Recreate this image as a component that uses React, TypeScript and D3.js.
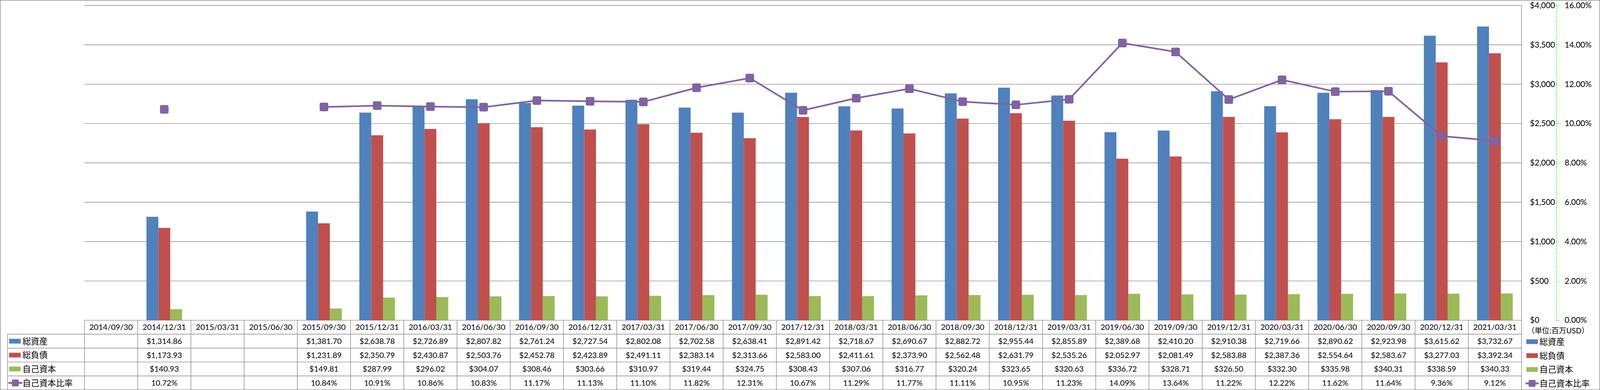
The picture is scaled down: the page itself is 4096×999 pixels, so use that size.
import React, { useEffect, useRef } from 'react';
import * as d3 from 'd3';

// quarter-end dates (one table column each)
const dates = [
  '2014/09/30', '2014/12/31', '2015/03/31', '2015/06/30', '2015/09/30', '2015/12/31',
  '2016/03/31', '2016/06/30', '2016/09/30', '2016/12/31', '2017/03/31', '2017/06/30',
  '2017/09/30', '2017/12/31', '2018/03/31', '2018/06/30', '2018/09/30', '2018/12/31',
  '2019/03/31', '2019/06/30', '2019/09/30', '2019/12/31', '2020/03/31', '2020/06/30',
  '2020/09/30', '2020/12/31', '2021/03/31',
];

// 総資産 (百万USD)
const totalAssets: (number | null)[] = [
  null, 1314.86, null, null, 1381.70, 2638.78, 2726.89, 2807.82, 2761.24, 2727.54, 2802.08,
  2702.58, 2638.41, 2891.42, 2718.67, 2690.67, 2882.72, 2955.44, 2855.89, 2389.68, 2410.20,
  2910.38, 2719.66, 2890.62, 2923.98, 3615.62, 3732.67,
];

// 総負債
const totalLiabilities: (number | null)[] = [
  null, 1173.93, null, null, 1231.89, 2350.79, 2430.87, 2503.76, 2452.78, 2423.89, 2491.11,
  2383.14, 2313.66, 2583.00, 2411.61, 2373.90, 2562.48, 2631.79, 2535.26, 2052.97, 2081.49,
  2583.88, 2387.36, 2554.64, 2583.67, 3277.03, 3392.34,
];

// 自己資本
const equity: (number | null)[] = [
  null, 140.93, null, null, 149.81, 287.99, 296.02, 304.07, 308.46, 303.66, 310.97,
  319.44, 324.75, 308.43, 307.06, 316.77, 320.24, 323.65, 320.63, 336.72, 328.71,
  326.50, 332.30, 335.98, 340.31, 338.59, 340.33,
];

// 自己資本比率 (%)
const equityRatio: (number | null)[] = [
  null, 10.72, null, null, 10.84, 10.91, 10.86, 10.83, 11.17, 11.13, 11.10,
  11.82, 12.31, 10.67, 11.29, 11.77, 11.11, 10.95, 11.23, 14.09, 13.64,
  11.22, 12.22, 11.62, 11.64, 9.36, 9.12,
];

const seriesNames = ['総資産', '総負債', '自己資本', '自己資本比率'];
const unitLabel = '（単位:百万USD）';

const barColors = ['#4F81BD', '#C0504D', '#9BBB59'];
const lineColor = '#8064A2';
const gridColor = '#878787';
const FONT = "Lato, 'Noto Sans CJK JP', sans-serif";

// reference canvas (everything is drawn in these units, then scaled)
const W = 4390;
const H = 1071;
const OUT_W = 4096;
const OUT_H = 999;

const App: React.FC = () => {
  const svgRef = useRef<SVGSVGElement>(null);

  useEffect(() => {
    document.body.style.margin = '0';
    if (!svgRef.current) return;

    const svg = d3.select(svgRef.current);
    svg.selectAll('*').remove();

    const root = svg.append('g').attr('transform', `scale(${OUT_W / W})`);

    const plot = { left: 231.7, right: 4174.7, top: 15, bottom: 879.3 };
    const tableLeft = 20.7;
    const rowH = 38.2;
    const tableBottom = plot.bottom + rowH * 5;

    // outer chart border
    root.append('rect')
      .attr('x', 0.75).attr('y', 0.75)
      .attr('width', W - 1.5).attr('height', H - 1.5)
      .attr('fill', '#fff')
      .attr('stroke', gridColor)
      .attr('stroke-width', 1.5);

    const x = d3.scaleBand().domain(dates).range([plot.left, plot.right]);
    const xs = d3.scaleBand<number>()
      .domain([0, 1, 2])
      .range([0, x.bandwidth()])
      .paddingOuter(0.74);
    const y = d3.scaleLinear().domain([0, 4000]).range([plot.bottom, plot.top]);
    const y2 = d3.scaleLinear().domain([0, 16]).range([plot.bottom, plot.top]);

    // horizontal gridlines
    root.append('g')
      .selectAll('line')
      .data(y.ticks(8).filter(v => v > 0))
      .join('line')
      .attr('x1', plot.left).attr('x2', plot.right)
      .attr('y1', d => y(d)).attr('y2', d => y(d))
      .attr('stroke', gridColor)
      .attr('stroke-width', 1.5);

    // value axis line at the plot's right edge
    root.append('line')
      .attr('x1', plot.right).attr('x2', plot.right)
      .attr('y1', plot.top).attr('y2', plot.bottom)
      .attr('stroke', gridColor)
      .attr('stroke-width', 1.5);

    // bars
    [totalAssets, totalLiabilities, equity].forEach((vals, si) => {
      root.append('g')
        .attr('fill', barColors[si])
        .selectAll('rect')
        .data(dates.map((d, i) => ({ d, v: vals[i] })).filter(p => p.v != null))
        .join('rect')
        .attr('x', p => (x(p.d) || 0) + (xs(si) || 0))
        .attr('y', p => y(p.v as number))
        .attr('width', xs.bandwidth())
        .attr('height', p => plot.bottom - y(p.v as number));
    });

    // equity ratio line
    const pts = dates.map((d, i) => ({ d, v: equityRatio[i] }));
    const cx = (d: string) => (x(d) || 0) + x.bandwidth() / 2;
    const line = d3.line<{ d: string; v: number | null }>()
      .defined(p => p.v != null)
      .x(p => cx(p.d))
      .y(p => y2(p.v as number));

    root.append('path')
      .datum(pts)
      .attr('d', line)
      .attr('fill', 'none')
      .attr('stroke', lineColor)
      .attr('stroke-width', 4.5)
      .attr('stroke-linejoin', 'round');

    const ms = 22;
    root.append('g')
      .selectAll('rect')
      .data(pts.filter(p => p.v != null))
      .join('rect')
      .attr('x', p => cx(p.d) - ms / 2)
      .attr('y', p => y2(p.v as number) - ms / 2)
      .attr('width', ms).attr('height', ms)
      .attr('rx', 3.5)
      .attr('fill', lineColor)
      .attr('stroke', '#7A5C9E')
      .attr('stroke-width', 1.5);

    // $ axis labels (no ticks, left aligned)
    const ax1 = root.append('g')
      .attr('transform', 'translate(4198,0)')
      .call(d3.axisRight(y).ticks(8).tickSize(0).tickPadding(0).tickFormat(v => d3.format('$,.0f')(v as number)));
    ax1.select('.domain').remove();
    ax1.attr('font-family', FONT).attr('font-size', 22);
    ax1.selectAll('text').attr('fill', '#000');

    // % axis with dashed green line
    const ax2 = root.append('g')
      .attr('transform', 'translate(4270,0)')
      .call(d3.axisRight(y2).ticks(8).tickSize(8).tickSizeOuter(8).tickPadding(15)
        .tickFormat(v => d3.format('.2f')(v as number) + '%'));
    ax2.attr('font-family', FONT).attr('font-size', 22);
    ax2.select('.domain')
      .attr('stroke', '#00FF00')
      .attr('stroke-width', 1.6)
      .attr('stroke-dasharray', '4,3');
    ax2.selectAll('.tick line')
      .attr('stroke', '#00FF00')
      .attr('stroke-width', 1.2)
      .attr('stroke-dasharray', '3,2');
    ax2.selectAll('text').attr('fill', '#000');

    // ---- data table ----
    const tbl = root.append('g')
      .attr('stroke', gridColor)
      .attr('stroke-width', 1.5);

    // header top (category axis line)
    tbl.append('line')
      .attr('x1', plot.left).attr('x2', plot.right)
      .attr('y1', plot.bottom).attr('y2', plot.bottom);
    // series row separators
    d3.range(1, 6).forEach(r => {
      tbl.append('line')
        .attr('x1', tableLeft).attr('x2', plot.right)
        .attr('y1', plot.bottom + r * rowH).attr('y2', plot.bottom + r * rowH);
    });
    // column separators
    tbl.selectAll('line.col')
      .data([...dates.map(d => x(d) || 0), plot.right])
      .join('line')
      .attr('class', 'col')
      .attr('x1', d => d).attr('x2', d => d)
      .attr('y1', plot.bottom).attr('y2', tableBottom);
    tbl.append('line')
      .attr('x1', tableLeft).attr('x2', tableLeft)
      .attr('y1', plot.bottom + rowH).attr('y2', tableBottom);

    const txt = root.append('g')
      .attr('font-family', FONT)
      .attr('font-size', 21.5)
      .attr('fill', '#000')
      .attr('text-anchor', 'middle');

    // header dates
    txt.selectAll('text.date')
      .data(dates)
      .join('text')
      .attr('class', 'date')
      .attr('x', d => cx(d))
      .attr('y', plot.bottom + rowH / 2)
      .attr('dy', '0.35em')
      .text(d => d);

    const fmtMoney = d3.format('$,.2f');
    const rows: { vals: (number | null)[]; fmt: (v: number) => string }[] = [
      { vals: totalAssets, fmt: fmtMoney },
      { vals: totalLiabilities, fmt: fmtMoney },
      { vals: equity, fmt: fmtMoney },
      { vals: equityRatio, fmt: v => d3.format('.2f')(v) + '%' },
    ];
    const rowY = (r: number) => plot.bottom + rowH * (r + 1.5);

    rows.forEach((row, r) => {
      txt.append('g')
        .selectAll('text')
        .data(dates.map((d, i) => ({ d, v: row.vals[i] })).filter(p => p.v != null))
        .join('text')
        .attr('x', p => cx(p.d))
        .attr('y', rowY(r))
        .attr('dy', '0.35em')
        .text(p => row.fmt(p.v as number));
    });

    // legend key drawer (used in table row headers and right legend)
    const drawKey = (g: d3.Selection<SVGGElement, unknown, null, undefined>, i: number, x0: number, x1: number, cy: number) => {
      if (i < 3) {
        g.append('rect')
          .attr('x', x0).attr('y', cy - 6.5)
          .attr('width', x1 - x0).attr('height', 13)
          .attr('fill', barColors[i]);
      } else {
        g.append('line')
          .attr('x1', x0).attr('x2', x1)
          .attr('y1', cy).attr('y2', cy)
          .attr('stroke', lineColor)
          .attr('stroke-width', 5)
          .attr('stroke-linecap', 'round');
        const s = 19;
        g.append('rect')
          .attr('x', (x0 + x1) / 2 - s / 2).attr('y', cy - s / 2)
          .attr('width', s).attr('height', s)
          .attr('rx', 3.5)
          .attr('fill', lineColor);
      }
    };

    const keys = root.append('g');
    seriesNames.forEach((name, i) => {
      const cy = rowY(i);
      drawKey(keys, i, 25, i < 3 ? 56.7 : 59, cy);
      keys.append('text')
        .attr('x', 61.7)
        .attr('y', cy)
        .attr('dy', '0.36em')
        .attr('font-family', FONT)
        .attr('font-size', 23)
        .attr('fill', '#000')
        .text(name);

      // right-hand legend
      const ry = cy + 1.5;
      drawKey(keys, i, 4188, 4219.5, ry);
      keys.append('text')
        .attr('x', 4224)
        .attr('y', ry)
        .attr('dy', '0.36em')
        .attr('font-family', FONT)
        .attr('font-size', 23)
        .attr('fill', '#000')
        .text(name);
    });

    root.append('text')
      .attr('x', 4190)
      .attr('y', 908)
      .attr('dy', '0.36em')
      .attr('font-family', FONT)
      .attr('font-size', 20.5)
      .attr('fill', '#000')
      .text(unitLabel);
  }, []);

  return (
    <svg
      ref={svgRef}
      width={OUT_W}
      height={OUT_H}
      style={{ display: 'block', background: '#fff' }}
    />
  );
};

export default App;
